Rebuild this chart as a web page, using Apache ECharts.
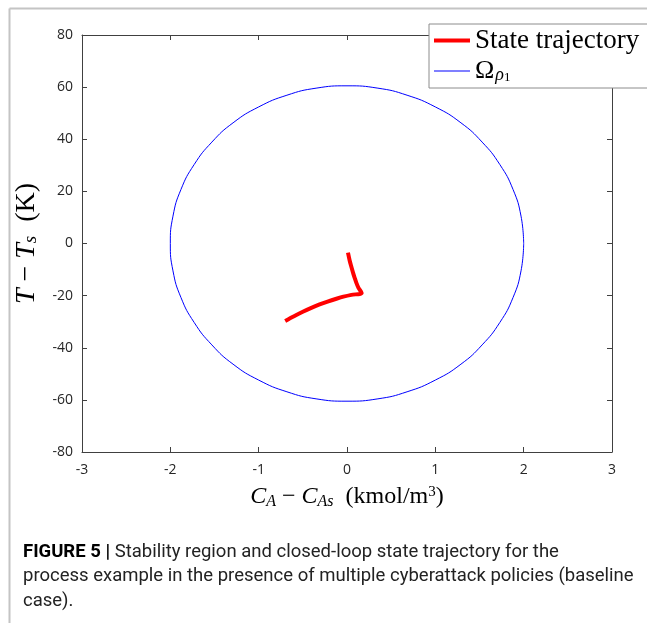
<!DOCTYPE html>
<html>
<head>
<meta charset="utf-8">
<script src="https://cdn.jsdelivr.net/npm/echarts@6/dist/echarts.min.js"></script>
<style>
html,body{margin:0;padding:0;background:#fff;}
#chart{width:647px;height:623px;}
</style>
</head>
<body>
<div id="chart"></div>
<script>
// ---- data ----
const xTicks = [-3, -2, -1, 0, 1, 2, 3];
const yTicks = [-80, -60, -40, -20, 0, 20, 40, 60, 80];
const seriesNames = ['State trajectory', 'Omega_rho1'];
// stability region boundary
const regionX = [2.00, 1.97, 1.88, 1.73, 1.53, 1.29, 1.00, 0.68, 0.35, 0.00, -0.35, -0.68, -1.00, -1.29, -1.53, -1.73, -1.88, -1.97, -2.00, -1.97, -1.88, -1.73, -1.53, -1.29, -1.00, -0.68, -0.35, 0.00, 0.35, 0.68, 1.00, 1.29, 1.53, 1.73, 1.88, 1.97, 2.00];
const regionY = [0.0, 10.5, 20.7, 30.3, 38.9, 46.3, 52.4, 56.9, 59.6, 60.5, 59.6, 56.9, 52.4, 46.3, 38.9, 30.3, 20.7, 10.5, 0.0, -10.5, -20.7, -30.3, -38.9, -46.3, -52.4, -56.9, -59.6, -60.5, -59.6, -56.9, -52.4, -46.3, -38.9, -30.3, -20.7, -10.5, 0.0];
// closed-loop state trajectory
const trajX = [-0.70, -0.60, -0.50, -0.41, -0.31, -0.22, -0.12, -0.04, 0.05, 0.166, 0.13, 0.105, 0.085, 0.068, 0.05, 0.03, 0.011];
const trajY = [-29.7, -27.9, -26.2, -24.8, -23.4, -22.3, -21.2, -20.4, -19.7, -19.0, -17.0, -15.0, -13.0, -11.2, -9.0, -6.5, -3.5];

const zip = (a, b) => a.map((v, i) => [v, b[i]]);

const axisColor = '#404040';
const labelFont = 'Open Sans';
const serif = 'Liberation Serif';

const chart = echarts.init(document.getElementById('chart'), null, {renderer: 'canvas'});

const baseX = {
  type: 'value', min: xTicks[0], max: xTicks[xTicks.length - 1], interval: 1,
  splitLine: {show: false},
  axisLine: {show: true, onZero: false, lineStyle: {color: axisColor, width: 1}},
  axisTick: {show: true, inside: true, length: 5, lineStyle: {color: axisColor}},
};
const baseY = {
  type: 'value', min: yTicks[0], max: yTicks[yTicks.length - 1], interval: 20,
  splitLine: {show: false},
  axisLine: {show: true, onZero: false, lineStyle: {color: axisColor, width: 1}},
  axisTick: {show: true, inside: true, length: 5, lineStyle: {color: axisColor}},
};

chart.setOption({
  animation: false,
  backgroundColor: '#ffffff',
  grid: {left: 82, right: 35, top: 35, bottom: 171, containLabel: false},
  xAxis: [
    Object.assign({}, baseX, {
      position: 'bottom',
      axisLabel: {show: true, margin: 11, fontSize: 14, color: '#262626', fontFamily: labelFont},
      name: '{i|C}{sub|A}{r| − }{i|C}{sub|As}{r|  (kmol/m}{sup|3}{r|)}',
      nameLocation: 'middle', nameGap: 30,
      nameTextStyle: {
        rich: {
          i: {fontFamily: serif, fontStyle: 'italic', fontSize: 24, color: '#000', lineHeight: 30, verticalAlign: 'middle'},
          r: {fontFamily: serif, fontSize: 24, color: '#000', lineHeight: 30, verticalAlign: 'middle'},
          sub: {fontFamily: serif, fontStyle: 'italic', fontSize: 16, color: '#000', lineHeight: 16, verticalAlign: 'bottom', padding: [0, 0, 2, 0]},
          sup: {fontFamily: serif, fontSize: 15, color: '#000', lineHeight: 15, verticalAlign: 'top', padding: [3, 0, 0, 0]}
        }
      }
    }),
    Object.assign({}, baseX, {position: 'top', axisLabel: {show: false}})
  ],
  yAxis: [
    Object.assign({}, baseY, {
      position: 'left',
      axisLabel: {show: true, margin: 9, fontSize: 14, color: '#262626', fontFamily: labelFont},
      name: '{i|T}{r| − }{i|T}{sub|s}{r|  (K)}',
      nameLocation: 'middle', nameGap: 40, nameRotate: 90,
      nameTextStyle: {
        rich: {
          i: {fontFamily: serif, fontStyle: 'italic', fontSize: 28, color: '#000', lineHeight: 30, verticalAlign: 'middle'},
          r: {fontFamily: serif, fontSize: 28, color: '#000', lineHeight: 30, verticalAlign: 'middle'},
          sub: {fontFamily: serif, fontStyle: 'italic', fontSize: 19, color: '#000', lineHeight: 19, verticalAlign: 'bottom', padding: [0, 0, 1, 0]}
        }
      }
    }),
    Object.assign({}, baseY, {position: 'right', axisLabel: {show: false}})
  ],
  legend: {
    show: true,
    orient: 'vertical',
    left: 429, top: 24,
    padding: [3, 20, 0, 5],
    itemGap: 4,
    itemWidth: 36, itemHeight: 14,
    backgroundColor: '#ffffff',
    borderColor: '#8c8c8c', borderWidth: 1,
    data: [
      {name: seriesNames[0], icon: 'path://M0,0H36V4H0Z'},
      {name: seriesNames[1], icon: 'path://M0,0H36V1H0Z'}
    ],
    formatter: function (name) {
      if (name === seriesNames[0]) return '{t|State trajectory}';
      return '{o|Ω}{s|ρ}{ss|1}';
    },
    textStyle: {
      color: '#000',
      rich: {
        t: {fontFamily: serif, fontSize: 27, lineHeight: 26, color: '#000'},
        o: {fontFamily: serif, fontSize: 26, lineHeight: 26, color: '#000', verticalAlign: 'top', padding: [0, 0, 4, 0]},
        s: {fontFamily: serif, fontStyle: 'italic', fontSize: 18, lineHeight: 18, color: '#000', verticalAlign: 'bottom', padding: [0, 0, 0, 1]},
        ss: {fontFamily: serif, fontSize: 13, lineHeight: 13, color: '#000', verticalAlign: 'bottom', padding: [0, 0, 0, 0]}
      }
    }
  },
  series: [
    {
      name: seriesNames[0], type: 'line', xAxisIndex: 0, yAxisIndex: 0,
      data: zip(trajX, trajY), showSymbol: false, symbol: 'none', smooth: 0.3,
      lineStyle: {color: '#ff0000', width: 4}, itemStyle: {color: '#ff0000'}, z: 3
    },
    {
      name: seriesNames[1], type: 'line', xAxisIndex: 0, yAxisIndex: 0,
      data: zip(regionX, regionY), showSymbol: false, symbol: 'none', smooth: true,
      lineStyle: {color: '#0000ff', width: 1}, itemStyle: {color: '#0000ff'}, z: 2
    }
  ],
  graphic: [
    {type: 'line', shape: {x1: 9.5, y1: 8.5, x2: 647, y2: 8.5}, style: {stroke: '#c4c4c4', lineWidth: 2}},
    {type: 'line', shape: {x1: 9.5, y1: 8.5, x2: 9.5, y2: 623}, style: {stroke: '#c4c4c4', lineWidth: 2}},
    {
      type: 'text', left: 23, top: 540,
      style: {
        text: '{b|FIGURE 5 |} Stability region and closed-loop state trajectory for the\nprocess example in the presence of multiple cyberattack policies (baseline\ncase).',
        fontFamily: 'Roboto, sans-serif', fontSize: 18.5, lineHeight: 24.5, fill: '#222',
        rich: {
          b: {fontFamily: 'Roboto, sans-serif', fontWeight: 'bold', fontSize: 18.5, lineHeight: 24.5, fill: '#000'}
        }
      }
    }
  ]
});
</script>
</body>
</html>
